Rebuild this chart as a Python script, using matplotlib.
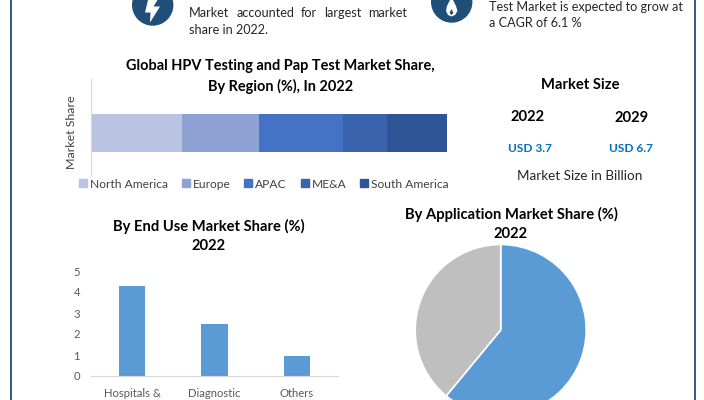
import matplotlib
matplotlib.use("Agg")
import matplotlib.pyplot as plt
from matplotlib.patches import Circle, Polygon, Patch

plt.rcParams['font.family'] = ['Lato', 'DejaVu Sans']

# data
regions = ["North America", "Europe", "APAC", "ME&A", "South America"]
region_share = [25.7, 21.6, 23.6, 12.3, 16.8]
region_colors = ["#BAC4E2", "#8FA2D4", "#4472C4", "#3A63AD", "#2F5597"]
end_use = ["Hospitals &", "Diagnostic", "Others"]
end_use_share = [4.3, 2.5, 0.95]
app_share = [61, 39]
app_colors = ["#5B9BD5", "#BFBFBF"]
y_ticks = [0, 1, 2, 3, 4, 5]

W, H = 704, 400
fig = plt.figure(figsize=(W / 100, H / 100), dpi=100, facecolor="white")


def px_axes(x0, y0, x1, y1, **kw):
    return fig.add_axes([x0 / W, 1 - y1 / H, (x1 - x0) / W, (y1 - y0) / H], **kw)


# overlay
ov = px_axes(0, 0, W, H)
ov.set_xlim(0, W)
ov.set_ylim(H, 0)
ov.axis("off")
ov.set_zorder(5)
ov.patch.set_alpha(0)

NAVY = "#1F4E79"
ov.plot([10.5, 10.5], [0, H], color=NAVY, lw=1.3)
ov.plot([694.7, 694.7], [0, H], color=NAVY, lw=1.3)

# icons
ov.add_patch(Circle((152.7, 5), 20.7, color=NAVY, lw=0))
ov.add_patch(Polygon([(148, 0), (145, 12.5), (150.5, 12.5), (150, 22.5), (160, 6.5), (153.5, 6.5), (157.5, 0)],
                     color="white", lw=0))
ov.add_patch(Circle((451.7, 2), 20.7, color=NAVY, lw=0))
ov.add_patch(Polygon([(450, 0), (453, 0), (456, 6), (457.5, 11), (455, 15), (451.5, 16.5), (448, 15),
                      (446, 11), (447, 6)], color="white", lw=0))
ov.add_patch(Polygon([(451.5, 9), (453.5, 13), (451.5, 15), (449.5, 13)], color=NAVY, lw=0))

# top text
body = dict(fontsize=9.1, color="#262626", va="center", ha="left")
for word, x in zip(["Market", "accounted", "for", "largest", "market"], [189, 236.7, 300.7, 324, 368]):
    ov.text(x, 13, word, **body)
ov.text(189, 30, "share in 2022.", **body)
ov.text(489, 7, "Test Market is expected to grow at", **body)
ov.text(489, 23, "a CAGR of 6.1 %", **body)

# titles
t = dict(fontsize=10.6, fontweight="bold", color="black", ha="center", va="center")
tg = dict(t, fontsize=10.45)
ov.text(280.5, 66, "Global HPV Testing and Pap Test Market Share,", **tg)
ov.text(280.5, 86, "By Region (%), In 2022", **tg)
ov.text(208.5, 226, "By End Use Market Share (%)", **t)
ov.text(208.5, 246.5, "2022", **t)
ov.text(511, 214, "By Application Market Share (%)", **t)
ov.text(511, 234.5, "2022", **t)

# market size panel
ov.text(580.7, 85, "Market Size", **t)
ov.text(527.7, 117, "2022", **t)
ov.text(631.7, 118, "2029", **t)
usd = dict(fontsize=8.6, fontweight="bold", color="#0070C0", ha="center", va="center")
ov.text(530, 148, "USD 3.7", **usd)
ov.text(631, 148, "USD 6.7", **usd)
ov.text(579.5, 176, "Market Size in Billion", fontsize=9.7, color="#262626", ha="center", va="center")

# stacked bar
ax1 = px_axes(90.5, 79, 447, 175)
left = 0
for name, val, col in zip(regions, region_share, region_colors):
    ax1.barh(0, val, left=left, height=1, color=col, label=name)
    left += val
ax1.set_xlim(0, 100)
ax1.set_ylim(-1.105, 1.42)
for s in ["top", "right", "bottom"]:
    ax1.spines[s].set_visible(False)
ax1.spines["left"].set_color("#D9D9D9")
ax1.set_xticks([])
ax1.set_yticks([])
ax1.patch.set_alpha(0)
ov.text(71.5, 132, "Market Share", rotation=90, fontsize=8.9, color="#404040", ha="center", va="center")
handles = [Patch(color=c, label=n) for n, c in zip(regions, region_colors)]
fig.legend(handles=handles, ncol=5, frameon=False, loc="center left",
           bbox_to_anchor=(79 / W, 1 - 184 / H), fontsize=8.65, labelcolor="#404040",
           handlelength=0.66, handleheight=0.66, handletextpad=0.25, columnspacing=1.15,
           borderpad=0, borderaxespad=0)

# bar chart
ax2 = px_axes(91, 271, 338, 376)
ax2.bar(range(len(end_use)), end_use_share, width=0.316, color="#5B9BD5")
ax2.set_xlim(-0.5, 2.5)
ax2.set_ylim(0, 5)
ax2.set_yticks(y_ticks)
ax2.set_xticks(range(len(end_use)))
ax2.set_xticklabels(end_use)
ax2.tick_params(length=0, labelsize=8.1, labelcolor="#595959")
ax2.tick_params(axis="y", pad=8)
ax2.tick_params(axis="x", pad=8.5)
for s in ["top", "right", "left"]:
    ax2.spines[s].set_visible(False)
ax2.spines["bottom"].set_color("#D9D9D9")

# pie
cx, cy, r = 500.7, 330, 85.5
ax3 = px_axes(cx - r, cy - r, cx + r, cy + r)
ax3.pie(app_share, colors=app_colors, startangle=90, counterclock=False, radius=1,
        wedgeprops=dict(edgecolor="white", linewidth=1.2))
ax3.set_xlim(-1, 1)
ax3.set_ylim(-1, 1)

fig.savefig("out.png", dpi=100)
